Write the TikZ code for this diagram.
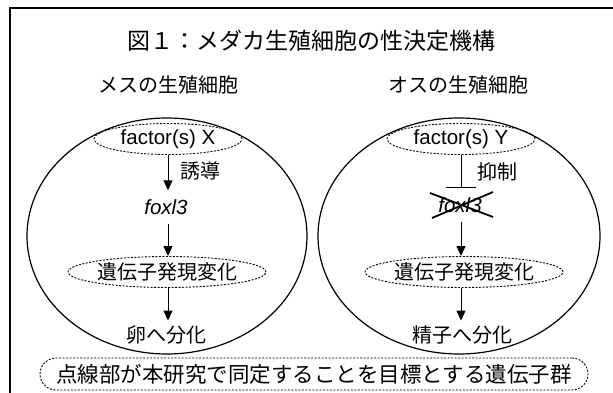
\documentclass[tikz,border=0pt]{standalone}
\usepackage{fontspec}
\setmainfont{Liberation Sans}
\newfontfamily\jp{Noto Sans CJK JP}
\usetikzlibrary{arrows.meta,shapes.geometric,calc}
\begin{document}
\begin{tikzpicture}[x=1pt,y=-1pt,
  dots/.style={draw,dash pattern=on 2pt off 1.5pt,line width=0.9pt},
  dell/.style={dots,ellipse,inner sep=0pt},
  cell/.style={draw,line width=1.2pt},
  arr/.style={-{Triangle[length=10pt,width=9pt]},line width=1pt},
  inhib/.style={-{Bar[width=30pt,line width=1pt]},line width=1pt},
  jtxt/.style={font=\jp\fontsize{20}{24}\selectfont},
  ltxt/.style={font=\fontsize{20.5}{25}\selectfont},
  crossline/.style={line width=1.8pt},
]
\useasboundingbox (0,0) rectangle (613,393);
% frame (top and left edges)
\coordinate (ftl) at (10,8);
\coordinate (ftr) at (613,8);
\coordinate (fbl) at (10,393);
\draw[line width=2pt] (ftr) -- (ftl) -- (fbl);
% title
\node[font=\jp\fontsize{23}{27}\selectfont] (title) at (311,41) {図１：メダカ生殖細胞の性決定機構};
% headers
\node[jtxt] (hf) at (168,85) {メスの生殖細胞};
\node[jtxt] (hm) at (458,85) {オスの生殖細胞};
% cells
\draw[cell] (167,236) ellipse [x radius=140, y radius=118];
\draw[cell] (459,236) ellipse [x radius=141, y radius=118];
% left (female)
\node[dell,ltxt,minimum width=148,minimum height=31] (fx) at (168,139) {factor(s) X};
\node[ltxt,inner xsep=0pt,inner ysep=9pt] (f3x) at (166,207) {\itshape foxl3};
\node[dell,jtxt,minimum width=188,minimum height=31] (gx) at (167,272) {遺伝子発現変化};
\node[jtxt,inner ysep=5pt] (egg) at (166,335) {卵へ分化};
\node[jtxt] (ind) at (200,171) {誘導};
\draw[arr] (fx.south) -- (fx.south |- f3x.north);
\draw[arr] (f3x.south -| fx.south) -- (fx.south |- gx.north);
\draw[arr] (gx.south -| fx.south) -- (fx.south |- egg.north);
% right (male)
\node[dell,ltxt,minimum width=148,minimum height=31] (fy) at (461,139) {factor(s) Y};
\coordinate (bar) at (461,188);
\node[ltxt,inner xsep=0pt,inner ysep=9pt] (f3y) at (460,205) {\itshape foxl3};
\node[dell,jtxt,minimum width=186,minimum height=31] (gy) at (464,272) {遺伝子発現変化};
\node[jtxt,inner ysep=5pt] (sperm) at (462,335) {精子へ分化};
\node[jtxt] (rep) at (497,172) {抑制};
\draw[inhib] (fy.south) -- (bar);
\draw[crossline] ($(f3y.center)+(-30,-12)$) -- ($(f3y.center)+(33,12)$);
\draw[crossline] ($(f3y.center)+(-28,13)$) -- ($(f3y.center)+(33,-13)$);
\draw[arr] (fy.south |- f3y.south) -- (fy.south |- gy.north);
\draw[arr] (fy.south |- gy.south) -- (fy.south |- sperm.north);
% note
\node[dots,rounded corners=16pt,minimum width=548,minimum height=32,inner sep=0pt,font=\jp\fontsize{21.5}{25}\selectfont] (note) at (314,374) {点線部が本研究で同定することを目標とする遺伝子群};
\end{tikzpicture}
\end{document}
